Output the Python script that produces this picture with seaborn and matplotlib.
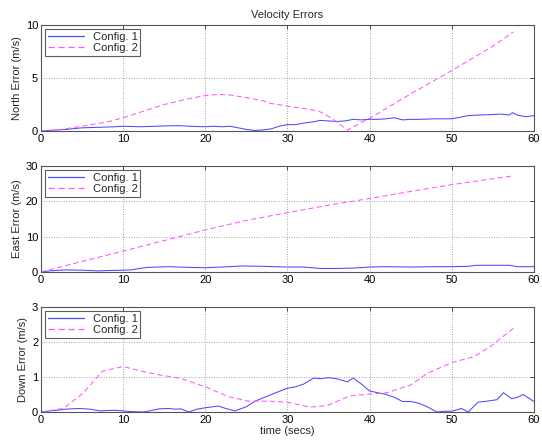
import numpy as np
import pandas as pd
import matplotlib
matplotlib.use("Agg")
import matplotlib.pyplot as plt
from matplotlib.lines import Line2D
import seaborn as sns

# ---------------- data ----------------
north_c1_t = [0, 1, 2, 3, 5, 7, 9, 10, 12, 14, 16, 17, 18, 20, 21, 22, 23, 24, 25, 26, 27, 28, 29, 30,
              31, 32, 33, 34, 35, 36, 37, 38, 39, 40, 41, 42, 43, 44, 45, 46, 48, 50, 51, 52, 53, 55,
              56, 57, 57.4, 58, 59, 60]
north_c1_v = [0, 0.05, 0.1, 0.15, 0.3, 0.35, 0.4, 0.45, 0.4, 0.45, 0.5, 0.5, 0.45, 0.4, 0.45, 0.4, 0.45,
              0.3, 0.15, 0.05, 0.1, 0.2, 0.45, 0.6, 0.6, 0.75, 0.85, 1.0, 0.95, 0.9, 0.95, 1.1, 1.05, 1.1,
              1.1, 1.15, 1.25, 1.05, 1.1, 1.1, 1.15, 1.15, 1.3, 1.45, 1.5, 1.55, 1.6, 1.5, 1.73, 1.5, 1.35,
              1.45]
north_c2_t = [0, 2, 5, 8, 10, 12, 15, 18, 20, 21.6, 23, 25, 27, 28, 30, 33, 34, 35.4, 37.3, 40, 45, 50, 55, 57.5]
north_c2_v = [0, 0.1, 0.45, 0.85, 1.25, 1.75, 2.5, 3.05, 3.35, 3.45, 3.4, 3.15, 2.85, 2.6, 2.35, 2.0, 1.8,
              1.2, 0.1, 1.2, 3.5, 5.7, 8.0, 9.35]

east_c1_t = [0, 1, 3, 5, 7, 8, 10, 11, 12, 13, 15.5, 18, 20, 22, 24.5, 27, 30, 32, 34, 36, 38, 40, 42,
             45, 48, 50, 52, 53, 55, 57, 58, 60]
east_c1_v = [0, 0.3, 0.6, 0.5, 0.3, 0.4, 0.5, 0.6, 1.0, 1.3, 1.5, 1.3, 1.2, 1.4, 1.7, 1.6, 1.4, 1.4, 1.0,
             1.0, 1.1, 1.4, 1.5, 1.4, 1.5, 1.5, 1.6, 1.9, 1.9, 1.9, 1.5, 1.5]
east_c2_t = [0, 5, 10, 15, 20, 25, 30, 35, 40, 45, 50, 55, 57.5]
east_c2_v = [0, 3.0, 5.9, 8.9, 11.9, 14.6, 16.8, 18.9, 20.8, 22.8, 24.7, 26.4, 27.2]

down_c1_t = [0, 1, 2, 3, 4.7, 6, 7.2, 8, 9, 10, 11, 12.4, 13, 14.4, 15.5, 16.4, 17, 18, 19, 20, 21.6,
             22.5, 23.6, 25, 26, 27, 28.8, 30, 31, 32, 33.2, 34, 35, 36, 37.3, 38, 39, 40, 41, 42, 43,
             44, 45, 46, 47, 48.2, 49, 50, 51.2, 52, 53.2, 54, 55.5, 56.3, 57.3, 58, 58.7, 60]
down_c1_v = [0, 0.03, 0.05, 0.08, 0.1, 0.08, 0.03, 0.04, 0.05, 0.03, 0.01, 0.0, 0.02, 0.09, 0.1, 0.08,
             0.09, 0.0, 0.08, 0.12, 0.17, 0.1, 0.03, 0.15, 0.3, 0.4, 0.57, 0.68, 0.72, 0.8, 0.97, 0.95,
             0.98, 0.95, 0.86, 0.97, 0.8, 0.6, 0.55, 0.5, 0.42, 0.3, 0.3, 0.25, 0.15, 0.0, 0.02, 0.02,
             0.1, 0.0, 0.28, 0.3, 0.35, 0.55, 0.38, 0.42, 0.5, 0.3]
down_c2_t = [0, 2.7, 5.1, 7.5, 10, 12, 14.4, 17, 20, 22.8, 25.2, 27.7, 30, 32.7, 34.8, 37.6, 40, 42.1,
             45, 47, 50, 52.7, 54.7, 57.5]
down_c2_v = [0, 0.1, 0.53, 1.17, 1.3, 1.18, 1.06, 0.96, 0.72, 0.44, 0.31, 0.31, 0.28, 0.14, 0.18, 0.46,
             0.51, 0.55, 0.77, 1.1, 1.41, 1.58, 1.87, 2.39]

panels = [
    ("North Error (m/s)", north_c1_t, north_c1_v, north_c2_t, north_c2_v, 10, [0, 5, 10]),
    ("East Error (m/s)", east_c1_t, east_c1_v, east_c2_t, east_c2_v, 30, [0, 10, 20, 30]),
    ("Down Error (m/s)", down_c1_t, down_c1_v, down_c2_t, down_c2_v, 3, [0, 1, 2, 3]),
]
labels = ["Config. 1", "Config. 2"]
x_ticks = [0, 10, 20, 30, 40, 50, 60]
c1_color = "#4a4aff"
c2_color = "#ff55ff"
dash = (0, (5, 3))

# ---------------- style ----------------
sns.set_style("white")
plt.rcParams["font.family"] = ["Liberation Sans", "DejaVu Sans"]
plt.rcParams["font.size"] = 8

fig = plt.figure(figsize=(5.42, 4.45), dpi=100)
boxes = [
    (0.0756, 0.7056, 0.9094, 0.2382),
    (0.0756, 0.3888, 0.9094, 0.2382),
    (0.0756, 0.0742, 0.9094, 0.2360),
]

for i, (ylab, t1, v1, t2, v2, ymax, yt) in enumerate(panels):
    ax = fig.add_axes(boxes[i])
    sns.lineplot(x=t1, y=v1, color=c1_color, linewidth=0.75, ax=ax,
                 sort=False, estimator=None, legend=False)
    sns.lineplot(x=t2, y=v2, color=c2_color, linewidth=0.75, ax=ax,
                 sort=False, estimator=None, legend=False, linestyle=dash)
    ax.set_xlim(0, 60)
    ax.set_ylim(0, ymax)
    ax.set_xticks(x_ticks)
    ax.set_yticks(yt)
    ax.grid(True, color="#888888", linestyle=(0, (1, 2)), linewidth=0.6)
    ax.tick_params(direction="in", length=3, width=0.6, top=True, right=True,
                   labelsize=8, pad=2, colors="#333333", labelcolor="black")
    for s in ax.spines.values():
        s.set_color("#555555")
        s.set_linewidth(0.8)
    ax.set_ylabel(ylab, fontsize=8, labelpad=3)
    ax.set_xlabel("time (secs)" if i == 2 else "", fontsize=8, labelpad=1)
    handles = [Line2D([], [], color=c1_color, linewidth=0.9),
               Line2D([], [], color=c2_color, linewidth=0.9, linestyle=dash)]
    leg = ax.legend(handles=handles, labels=labels,
                    loc="upper left", fontsize=8, frameon=True, fancybox=False,
                    edgecolor="#333333", borderpad=0.25, handlelength=3.2,
                    handletextpad=0.8, labelspacing=0.1, borderaxespad=0.4)
    leg.get_frame().set_linewidth(0.8)
    if i == 0:
        ax.set_title("Velocity Errors", fontsize=8, pad=5)

fig.savefig("out.png", dpi=100)
